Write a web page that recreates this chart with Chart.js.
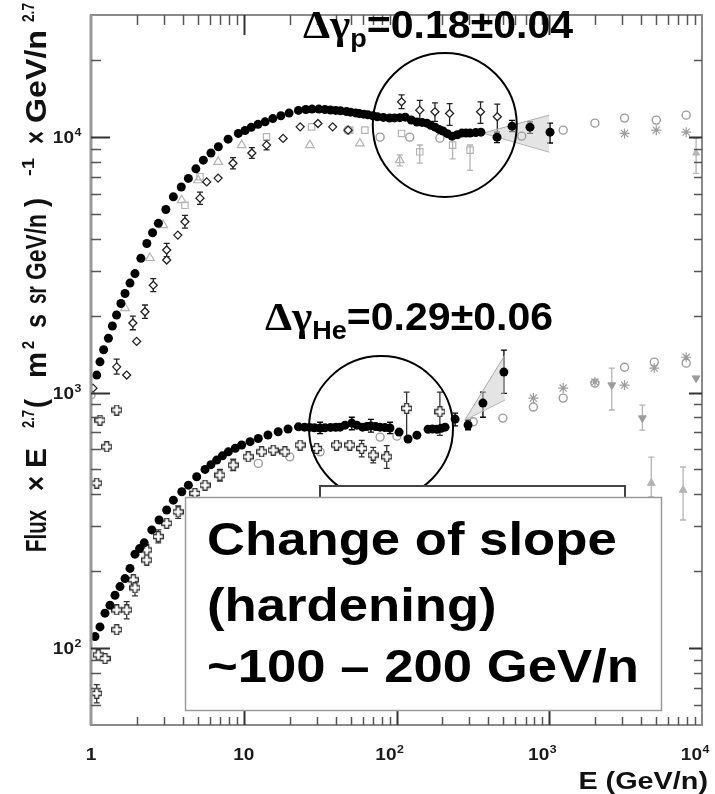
<!DOCTYPE html>
<html>
<head>
<meta charset="utf-8">
<script src="https://cdn.jsdelivr.net/npm/chart.js@4.4.0/dist/chart.umd.min.js"></script>
<style>
  html, body { margin: 0; padding: 0; background: #fff; }
  #wrap { width: 715px; height: 794px; }
</style>
</head>
<body>
<div id="wrap"><canvas id="fluxChart" width="715" height="794"></canvas></div>
<script>
const FONT = 'Liberation Sans, Arial, Helvetica, sans-serif';

// axis ticks (base text + exponent)
const xTickValues = [1, 10, 100, 1000, 10000];
const xTickBase = ['1', '10', '10', '10', '10'];
const xTickSup = ['', '', '2', '3', '4'];
const yTickValues = [100, 1000, 10000];
const yTickBase = ['10', '10', '10'];
const yTickSup = ['2', '3', '4'];

// protons - filled black
const protonE = [1.09,1.145,1.21,1.30,1.38,1.47,1.57,1.67,1.80,1.94,2.12,2.32,2.53,2.76,3.09,3.46,3.90,4.34,4.86,5.44,6.10,6.82,7.90,9.21,10.2,11.2,12.4,13.8,15.5,17.5,19.8,22.8,25.5,28,31,34,37,40,43,47,50,54,57,61,65,70,75,82,90,97,105,114,125,136,147,158,168,179,190,202,215,231,250,268,285,303,330,357,455,571,748,1012];
const protonFlux = [1170,1318,1470,1630,1820,2010,2230,2440,2680,2920,3350,3830,4220,4590,5200,5830,6370,6880,7500,8110,8650,9150,9800,10320,10600,10900,11200,11460,11800,12100,12400,12700,12800,12850,12850,12800,12750,12700,12650,12580,12500,12420,12350,12280,12200,12100,12000,11920,11850,11870,11900,11950,11650,11430,11400,11320,11100,10920,10700,10540,10300,10070,10200,10350,10350,10350,10400,10440,9980,11020,10920,10440];
const protonErrE = [455, 571, 748, 1012];
const protonErrLo = [9500, 10500, 10320, 9470];
const protonErrHi = [10450, 11600, 11460, 11320];

// helium - filled black
const heliumE = [1.062,1.145,1.235,1.331,1.436,1.548,1.670,1.80,1.94,2.08,2.23,2.50,2.79,3.13,3.46,3.93,4.34,4.92,5.58,6.1,6.65,7.25,7.92,8.8,9.69,11,12.45,14.4,16.8,19.5,22.8,25,27,29,31.6,34,37,40,42.7,46,51,55,60,64,68,73,78,84,90.6,104,119,136,161,172,184,196,208,242,294,368,505];
const heliumFlux = [111,121,137,147,161,174,187,205,233,245,258,290,317,347,379,409,434,468,500,522,544,565,586,605,623,642,661,682,702,720,734,732,730,728,726,728,730,731,732,745,759,745,732,736,740,736,732,729,726,700,658,681,718,720,718,725,732,787,746,909,1202];
const heliumErrE = [31.6, 51, 68, 90.6, 242, 294, 368, 505];
const heliumErrLo = [690, 715, 700, 690, 740, 715, 800, 993];
const heliumErrHi = [765, 800, 785, 765, 830, 780, 1004, 1466];

// other experiments, open black markers
const pOpenE = [1.03,1.473,1.713,1.88,1.99,2.256,2.557,3.13,3.13,3.70,4.12,5.17,5.72,6.79,8.5,11.3,14.1,18.1,23.4,30.6,38.2,48.2,107.9,142,178.6,222.7,355,457];
const pOpenFlux = [1040,1260,1170,1870,1585,2070,2630,3610,3300,4130,4660,5760,6670,6900,7890,8650,9290,9870,10950,11290,10950,10630,13720,12730,12540,12360,12540,11990];
const pOpenErrE = [1.473,1.88,2.256,2.557,3.13,4.12,5.17,8.5,11.3,14.1,107.9,142,178.6,222.7,355,457];
const pOpenErrLo = [1180,1760,1950,2480,3400,4400,5450,7500,8250,8900,12900,11600,11500,11100,11290,9720];
const pOpenErrHi = [1350,1990,2200,2790,3830,4930,6080,8300,9080,9700,14600,13900,13600,13500,13720,13450];

const heOpenE = [1.09,1.116,1.145,1.235,1.09,1.267,1.473,1.473,1.473,1.713,1.891,1.94,2.316,2.316,2.758,3.13,3.72,4.79,5.576,6.98,8.53,10.7,13.1,15.6,18.6,23.4,30.0,40.5,49.4,59.2,70.4,86.3,116.5,192.3];
const heOpenFlux = [66.5,94,780,91,442,613,854,141,118,141,185,172,221,242,273,308,341,403,434,475,520,560,586,595,586,623,604,623,623,604,569,560,867,841];
const heOpenErrE = [1.09,1.713,1.94,2.758,3.72,6.98,8.53,59.2,70.4,86.3,116.5,192.3];
const heOpenErrLo = [61,130,160,258,322,450,495,560,530,505,669,680];
const heOpenErrHi = [72,152,185,290,360,500,548,650,610,620,1004,1004];

// other experiments, grey markers
const pTriE = [1.67,2.43,2.97,3.92,5.03,6.8,9.69,27.1,57.6,105];
const pTriFlux = [2140,3360,4520,5660,6770,7990,9290,9290,9430,8110];
const pSqE = [4.12,5.17,14.1,27.8,49.4,62.1,107.9,142,233,303];
const pSqFlux = [5400,6990,10010,10950,10630,10630,10320,8745,9290,8880];
const pSqErrE = [142, 233, 303];
const pSqErrLo = [7900, 8200, 7400];
const pSqErrHi = [9300, 9900, 9300];
const pCircE = [48.2,78.1,122,192.3,660,1234,1990,3110,5020,7880];
const pCircFlux = [10630,9980,9980,9890,10070,10630,11320,11850,11640,12170];
const pStarE = [3110, 5020, 7880];
const pStarFlux = [10320, 10630, 10440];
const pUpE = [9150];
const pUpFlux = [8650];

const heCircE = [1.0,12.45,20.0,31.6,78.1,100.6,318,497,787,1234,1990,3110,4870,7880];
const heCircFlux = [978,528,560,586,669,675,768,794,877,951,1088,1256,1315,1303];
const heStarE = [787,1234,1990,3110,4870,7880];
const heStarFlux = [951,1041,1099,1069,1246,1374];
const heDownE = [2567, 4070, 9150];
const heDownFlux = [1069, 794, 1138];
const heUpE = [4655, 7520];
const heUpFlux = [442, 415];
const greyErrE = [9150, 2567, 4070, 4655, 7520];
const greyErrLo = [7200, 854, 712, 390, 317];
const greyErrHi = [9870, 1246, 893, 559, 511];

// systematic wedges
const pBandE = [368, 1000];
const pBandHi = [10350, 12170];
const pBandLo = [10350, 8720];
const heBandE = [280, 512];
const heBandHi = [780, 1400];
const heBandLo = [780, 934];

function pts(xs, ys) {
  return xs.map((x, i) => ({ x: x, y: ys[i] }));
}

// small hollow plus marker
function plusMarker(color) {
  const c = document.createElement('canvas');
  c.width = 11; c.height = 11;
  const g = c.getContext('2d');
  g.fillStyle = '#fff';
  g.strokeStyle = color;
  g.lineWidth = 1.3;
  g.beginPath();
  const p = [[3.5,0.5],[7.5,0.5],[7.5,3.5],[10.5,3.5],[10.5,7.5],[7.5,7.5],[7.5,10.5],[3.5,10.5],[3.5,7.5],[0.5,7.5],[0.5,3.5],[3.5,3.5]];
  p.forEach((q, i) => i ? g.lineTo(q[0], q[1]) : g.moveTo(q[0], q[1]));
  g.closePath();
  g.fill();
  g.stroke();
  return c;
}

const GREY = '#9c9c9c';
const LIGHT = '#b4b4b4';

const datasets = [
  { label: 'p', data: pts(protonE, protonFlux), pointStyle: 'circle', pointRadius: 4.5,
    backgroundColor: '#000', borderColor: '#000', borderWidth: 0,
    err: { e: protonErrE, lo: protonErrLo, hi: protonErrHi }, errColor: '#000' },
  { label: 'He', data: pts(heliumE, heliumFlux), pointStyle: 'circle', pointRadius: 4.5,
    backgroundColor: '#000', borderColor: '#000', borderWidth: 0,
    err: { e: heliumErrE, lo: heliumErrLo, hi: heliumErrHi }, errColor: '#000' },
  { label: 'p other', data: pts(pOpenE, pOpenFlux), pointStyle: 'rectRot', pointRadius: 4,
    backgroundColor: '#fff', borderColor: '#222', borderWidth: 1.3,
    err: { e: pOpenErrE, lo: pOpenErrLo, hi: pOpenErrHi }, errColor: '#222' },
  { label: 'He other', data: pts(heOpenE, heOpenFlux), pointStyle: plusMarker('#333'), pointRadius: 5,
    backgroundColor: '#fff', borderColor: '#333',
    err: { e: heOpenErrE, lo: heOpenErrLo, hi: heOpenErrHi }, errColor: '#333' },
  { label: 'p tri', data: pts(pTriE, pTriFlux), pointStyle: 'triangle', pointRadius: 5,
    backgroundColor: 'rgba(255,255,255,0)', borderColor: LIGHT, borderWidth: 1.2,
    err: { e: [105], lo: [7700], hi: [8500] }, errColor: LIGHT },
  { label: 'p sq', data: pts(pSqE, pSqFlux), pointStyle: 'rect', pointRadius: 4.5,
    backgroundColor: 'rgba(255,255,255,0)', borderColor: LIGHT, borderWidth: 1.2,
    err: { e: pSqErrE, lo: pSqErrLo, hi: pSqErrHi }, errColor: LIGHT },
  { label: 'p circ', data: pts(pCircE, pCircFlux), pointStyle: 'circle', pointRadius: 4,
    backgroundColor: 'rgba(255,255,255,0)', borderColor: GREY, borderWidth: 1.4 },
  { label: 'p star', data: pts(pStarE, pStarFlux), pointStyle: 'star', pointRadius: 5,
    borderColor: GREY, borderWidth: 1.2 },
  { label: 'p up', data: pts(pUpE, pUpFlux), pointStyle: 'triangle', pointRadius: 4,
    backgroundColor: LIGHT, borderColor: LIGHT, borderWidth: 1 },
  { label: 'He circ', data: pts(heCircE, heCircFlux), pointStyle: 'circle', pointRadius: 4,
    backgroundColor: 'rgba(255,255,255,0)', borderColor: GREY, borderWidth: 1.4 },
  { label: 'He star', data: pts(heStarE, heStarFlux), pointStyle: 'star', pointRadius: 5,
    borderColor: GREY, borderWidth: 1.2 },
  { label: 'He down', data: pts(heDownE, heDownFlux), pointStyle: 'triangle', rotation: 180, pointRadius: 4.5,
    backgroundColor: GREY, borderColor: GREY, borderWidth: 1,
    err: { e: greyErrE, lo: greyErrLo, hi: greyErrHi }, errColor: LIGHT },
  { label: 'He up', data: pts(heUpE, heUpFlux), pointStyle: 'triangle', pointRadius: 4.5,
    backgroundColor: LIGHT, borderColor: LIGHT, borderWidth: 1 },
  { type: 'line', label: 'p band hi', data: pts(pBandE, pBandHi), borderColor: '#aaa', borderWidth: 1,
    pointRadius: 0, fill: '+1', backgroundColor: 'rgba(205,205,205,0.55)' },
  { type: 'line', label: 'p band lo', data: pts(pBandE, pBandLo), borderColor: '#aaa', borderWidth: 1,
    pointRadius: 0, fill: false },
  { type: 'line', label: 'He band hi', data: pts(heBandE, heBandHi), borderColor: '#aaa', borderWidth: 1,
    pointRadius: 0, fill: '+1', backgroundColor: 'rgba(205,205,205,0.55)' },
  { type: 'line', label: 'He band lo', data: pts(heBandE, heBandLo), borderColor: '#aaa', borderWidth: 1,
    pointRadius: 0, fill: false }
];

// error bars under the markers
const errorBars = {
  id: 'errorBars',
  beforeDatasetsDraw(chart) {
    const { ctx, chartArea: a, scales: { x, y } } = chart;
    ctx.save();
    ctx.beginPath();
    ctx.rect(a.left, a.top, a.right - a.left, a.bottom - a.top);
    ctx.clip();
    chart.data.datasets.forEach(d => {
      if (!d.err) return;
      ctx.strokeStyle = d.errColor;
      ctx.lineWidth = 1.3;
      d.err.e.forEach((e, i) => {
        const px = x.getPixelForValue(e);
        const p1 = y.getPixelForValue(d.err.lo[i]);
        const p2 = y.getPixelForValue(d.err.hi[i]);
        ctx.beginPath();
        ctx.moveTo(px, p1); ctx.lineTo(px, p2);
        ctx.moveTo(px - 3, p1); ctx.lineTo(px + 3, p1);
        ctx.moveTo(px - 3, p2); ctx.lineTo(px + 3, p2);
        ctx.stroke();
      });
    });
    ctx.restore();
  }
};

function drawParts(ctx, x, y, sx, parts) {
  ctx.save();
  ctx.translate(x, y);
  ctx.scale(sx, 1);
  let cx = 0;
  parts.forEach(p => {
    ctx.font = p.font;
    ctx.fillText(p.t, cx, p.dy || 0);
    cx += ctx.measureText(p.t).width;
  });
  ctx.restore();
}

// text, size, bottom y, top y, superscript
const yTitleParts = [
  ['Flux', 26, 552, 510, false],
  ['×', 26, 491, 476, false],
  ['E', 26, 468, 448, false],
  ['2.7', 15, 428, 410, true],
  ['(', 26, 408, 399, false],
  ['m', 26, 378, 352, false],
  ['2', 15, 349, 341, true],
  ['s', 26, 328, 314, false],
  ['sr', 26, 304, 286, false],
  ['GeV/n', 26, 280, 214, false],
  [')', 26, 207, 198, false],
  ['-1', 15, 176, 158, true],
  ['×', 26, 144, 131, false],
  ['GeV/n', 26, 123, 30, false],
  ['2.7', 15, 22, 3, true]
];

const decorations = {
  id: 'decorations',
  afterDraw(chart) {
    const { ctx, chartArea: a, scales: { x, y } } = chart;
    ctx.save();

    // frame
    ctx.strokeStyle = '#8a8a8a';
    ctx.lineWidth = 2;
    ctx.strokeRect(a.left, a.top, a.right - a.left, a.bottom - a.top);
    ctx.lineWidth = 3;
    ctx.strokeStyle = '#999';
    ctx.beginPath(); ctx.moveTo(a.left, a.top); ctx.lineTo(a.left, a.bottom); ctx.stroke();

    // inner ticks
    for (let d = 0; d <= 4; d++) {
      for (let m = 1; m <= 9; m++) {
        const v = m * Math.pow(10, d);
        if (v >= 10000 || v <= 1) continue;
        const px = Math.round(x.getPixelForValue(v)) + 0.5;
        const major = m === 1;
        ctx.strokeStyle = major ? '#333' : '#555';
        ctx.lineWidth = major ? 2 : 1.5;
        ctx.beginPath();
        ctx.moveTo(px, a.bottom); ctx.lineTo(px, a.bottom - (major ? 15 : 8));
        ctx.moveTo(px, a.top); ctx.lineTo(px, a.top + (major ? 20 : 10));
        ctx.stroke();
      }
    }
    for (let d = 1; d <= 4; d++) {
      for (let m = 1; m <= 9; m++) {
        const v = m * Math.pow(10, d);
        if (v <= 50 || v >= 30000) continue;
        const py = Math.round(y.getPixelForValue(v)) + 0.5;
        const major = m === 1;
        ctx.strokeStyle = major ? '#333' : '#555';
        ctx.lineWidth = major ? 2 : 1.5;
        ctx.beginPath();
        ctx.moveTo(a.left, py); ctx.lineTo(a.left + (major ? 19 : 10), py);
        ctx.moveTo(a.right, py); ctx.lineTo(a.right - (major ? 13 : 8), py);
        ctx.stroke();
      }
    }

    // tick labels, placed from the scales
    ctx.fillStyle = '#1a1a1a';
    ctx.textBaseline = 'alphabetic';
    const lab = 'bold 17px ' + FONT;
    const sup = 'bold 11px ' + FONT;
    xTickValues.forEach((v, i) => {
      const px = x.getPixelForValue(v);
      ctx.save();
      ctx.translate(px, 760);
      ctx.scale(1.12, 1);
      ctx.font = lab;
      if (xTickSup[i]) {
        ctx.textAlign = 'right';
        ctx.fillText(xTickBase[i], 0, 0);
        ctx.textAlign = 'left';
        ctx.font = sup;
        ctx.fillText(xTickSup[i], 0.5, -7);
      } else {
        ctx.textAlign = 'center';
        ctx.fillText(xTickBase[i], 0, 0);
      }
      ctx.restore();
    });
    yTickValues.forEach((v, i) => {
      const py = y.getPixelForValue(v);
      ctx.save();
      ctx.translate(74, py + 6);
      ctx.scale(1.12, 1);
      ctx.font = lab;
      ctx.textAlign = 'right';
      ctx.fillText(yTickBase[i], 0, 0);
      ctx.textAlign = 'left';
      ctx.font = sup;
      ctx.fillText(yTickSup[i], 0.5, -7);
      ctx.restore();
    });

    // circles around the breaks
    ctx.strokeStyle = '#000';
    ctx.lineWidth = 2;
    [[207, 11140], [79.2, 726]].forEach(c => {
      ctx.beginPath();
      ctx.arc(x.getPixelForValue(c[0]), y.getPixelForValue(c[1]), 72, 0, Math.PI * 2);
      ctx.stroke();
    });

    // old legend box behind, then the text box
    ctx.fillStyle = '#fff';
    ctx.strokeStyle = '#444';
    ctx.lineWidth = 2;
    ctx.fillRect(320, 486, 305, 60);
    ctx.strokeRect(320, 486, 305, 60);
    ctx.fillRect(185, 497, 476, 213);
    ctx.strokeStyle = '#9a9a9a';
    ctx.lineWidth = 1.5;
    ctx.strokeRect(185.5, 497.5, 476, 213);

    ctx.fillStyle = '#000';
    ctx.textAlign = 'left';
    const big = 'bold 46px ' + FONT;
    drawParts(ctx, 207, 555, 1.145, [{ t: 'Change of slope', font: big }]);
    drawParts(ctx, 207, 621, 1.145, [{ t: '(hardening)', font: big }]);
    drawParts(ctx, 207, 682, 1.145, [{ t: '~100 – 200 GeV/n', font: big }]);

    const serif = 'bold 40px Liberation Serif, Times New Roman, serif';
    const mid = 'bold 38px ' + FONT;
    const sub = 'bold 25px ' + FONT;
    drawParts(ctx, 303, 38, 1.08, [
      { t: 'Δγ', font: serif }, { t: 'p', font: sub, dy: 9 }, { t: '=0.18±0.04', font: mid }
    ]);
    drawParts(ctx, 265, 330, 1.08, [
      { t: 'Δγ', font: serif }, { t: 'He', font: sub, dy: 9 }, { t: '=0.29±0.06', font: mid }
    ]);

    // x title
    ctx.save();
    ctx.translate(708, 789);
    ctx.scale(1.2, 1);
    ctx.font = 'bold 24px ' + FONT;
    ctx.textAlign = 'right';
    ctx.fillStyle = '#111';
    ctx.fillText('E (GeV/n)', 0, 0);
    ctx.restore();

    // y title, rotated
    ctx.fillStyle = '#111';
    yTitleParts.forEach(p => {
      ctx.save();
      ctx.translate(p[4] ? 34 : 46, p[2]);
      ctx.scale(1.14, 1);
      ctx.rotate(-Math.PI / 2);
      ctx.font = 'bold ' + p[1] + 'px ' + FONT;
      const w = ctx.measureText(p[0]).width;
      ctx.scale((p[2] - p[3]) / w, 1);
      ctx.textAlign = 'left';
      ctx.fillText(p[0], 0, 0);
      ctx.restore();
    });

    ctx.restore();
  }
};

new Chart(document.getElementById('fluxChart'), {
  type: 'scatter',
  data: { datasets: datasets },
  options: {
    responsive: false,
    devicePixelRatio: 1,
    animation: false,
    layout: { padding: { left: 0, right: 13, top: 15, bottom: 0 } },
    elements: { line: { tension: 0 } },
    plugins: { legend: { display: false }, tooltip: { enabled: false } },
    scales: {
      x: {
        type: 'logarithmic',
        min: 1,
        max: 10000,
        grid: { display: false },
        border: { display: false },
        ticks: { display: false },
        afterFit(s) { s.height = 69; s.paddingLeft = 0; s.paddingRight = 0; }
      },
      y: {
        type: 'logarithmic',
        min: 50,
        max: 30000,
        grid: { display: false },
        border: { display: false },
        ticks: { display: false },
        afterFit(s) { s.width = 91; s.paddingTop = 0; s.paddingBottom = 0; }
      }
    }
  },
  plugins: [errorBars, decorations]
});
</script>
</body>
</html>
